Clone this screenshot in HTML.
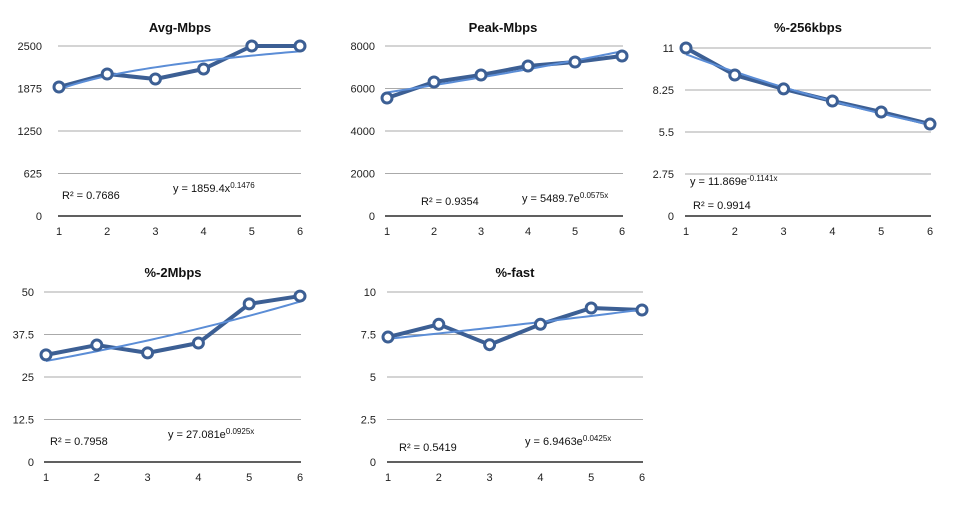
<!DOCTYPE html>
<html><head><meta charset="utf-8"><style>
body{margin:0;background:#fff;width:955px;height:511px;overflow:hidden}
svg{font-family:"Liberation Sans",sans-serif}
</style></head><body>
<svg id="s" width="955" height="511"></svg>
<script>
const categories=[1,2,3,4,5,6];
const avgValues=[1897,2088,2015,2162,2500,2500];
const peakValues=[5553,6306,6635,7059,7247,7529];
const k256Values=[11,9.23,8.32,7.53,6.81,6.02];
const m2Values=[31.5,34.4,32.1,35,46.5,48.8];
const fastValues=[7.35,8.1,6.9,8.1,9.06,8.94];
const avgTicks=[0,625,1250,1875,2500];
const peakTicks=[0,2000,4000,6000,8000];
const k256Ticks=[0,2.75,5.5,8.25,11];
const m2Ticks=[0,12.5,25,37.5,50];
const fastTicks=[0,2.5,5,7.5,10];
const charts=[
 {name:'avg-mbps',title:'Avg-Mbps',vals:avgValues,ticks:avgTicks,x0:59,x1:300,gx0:58,y0:216,y1:46,ylab:42,tx:180,ty:32,
  trend:x=>1859.4*Math.pow(x,0.1476),eq:['y = 1859.4x','0.1476'],eqx:173,eqy:192,r2:'R² = 0.7686',rx:62,ry:199},
 {name:'peak-mbps',title:'Peak-Mbps',vals:peakValues,ticks:peakTicks,x0:387,x1:622,gx0:385,y0:216,y1:46,ylab:375,tx:503,ty:32,
  trend:x=>5489.7*Math.exp(0.0575*x),eq:['y = 5489.7e','0.0575x'],eqx:522,eqy:202,r2:'R² = 0.9354',rx:421,ry:205},
 {name:'pct-256kbps',title:'%-256kbps',vals:k256Values,ticks:k256Ticks,x0:686,x1:930,gx0:685,y0:216,y1:48,ylab:674,tx:808,ty:32,
  trend:x=>11.869*Math.exp(-0.1141*x),eq:['y = 11.869e','-0.1141x'],eqx:690,eqy:185,r2:'R² = 0.9914',rx:693,ry:209},
 {name:'pct-2mbps',title:'%-2Mbps',vals:m2Values,ticks:m2Ticks,x0:46,x1:300,gx0:44,y0:462,y1:292,ylab:34,tx:173,ty:277,
  trend:x=>27.081*Math.exp(0.0925*x),eq:['y = 27.081e','0.0925x'],eqx:168,eqy:438,r2:'R² = 0.7958',rx:50,ry:445},
 {name:'pct-fast',title:'%-fast',vals:fastValues,ticks:fastTicks,x0:388,x1:642,gx0:387,y0:462,y1:292,ylab:376,tx:515,ty:277,
  trend:x=>6.9463*Math.exp(0.0425*x),eq:['y = 6.9463e','0.0425x'],eqx:525,eqy:445,r2:'R² = 0.5419',rx:399,ry:451}
];
const NS='http://www.w3.org/2000/svg';
const svg=document.getElementById('s');
function mk(tag,attrs,parent,text){const e=document.createElementNS(NS,tag);for(const k in attrs)e.setAttribute(k,attrs[k]);if(text!=null)e.textContent=text;parent.appendChild(e);return e;}
charts.forEach(c=>{
 const g=mk('g',{},svg);
 
 
 const maxT=c.ticks[c.ticks.length-1];
 const xs=i=>c.x0+(i-1)*(c.x1-c.x0)/(categories.length-1);
 const ys=v=>c.y0-v/maxT*(c.y0-c.y1);
 const t=mk('text',{x:c.tx,y:c.ty,'text-anchor':'middle','font-size':13,'font-weight':'bold',fill:'#111'},g,c.title);
 
 
 c.ticks.forEach((v,i)=>{
  const y=ys(v);
  const ln=mk('line',{x1:c.gx0,x2:c.x1+1,y1:y,y2:y,stroke:i==0?'#000':'#aaa','stroke-width':i==0?1.2:1},g);
  
  
  const tl=mk('text',{x:c.ylab,y:y+4,'text-anchor':'end','font-size':11,fill:'#222'},g,String(v));
  
  
 });
 categories.forEach(cat=>{
  const tl=mk('text',{x:xs(cat),y:c.y0+19,'text-anchor':'middle','font-size':11,fill:'#222'},g,String(cat));
  
  
 });
 const sp=mk('polyline',{points:categories.map((cat,i)=>xs(cat)+','+ys(c.vals[i])).join(' '),fill:'none',stroke:'#3c5f94','stroke-width':4,'stroke-linejoin':'round'},g);
 
 
 const tp=[];for(let x=1;x<=6.001;x+=0.1)tp.push(xs(x)+','+ys(c.trend(x)));
 const tr=mk('polyline',{points:tp.join(' '),fill:'none',stroke:'#5b8dd6','stroke-width':2},g);
 
 
 categories.forEach((cat,i)=>{
  const p=mk('circle',{cx:xs(cat),cy:ys(c.vals[i]),r:5,fill:'#fff',stroke:'#3c5f94','stroke-width':3},g);
  
  
 });
 const eq=mk('text',{x:c.eqx,y:c.eqy,'font-size':11,fill:'#111'},g);
 
 
 mk('tspan',{},eq,c.eq[0]);
 mk('tspan',{'font-size':8,dy:-4},eq,c.eq[1]);
 const r=mk('text',{x:c.rx,y:c.ry,'font-size':11,fill:'#111'},g,c.r2);
 
 
});
</script>
</body></html>
